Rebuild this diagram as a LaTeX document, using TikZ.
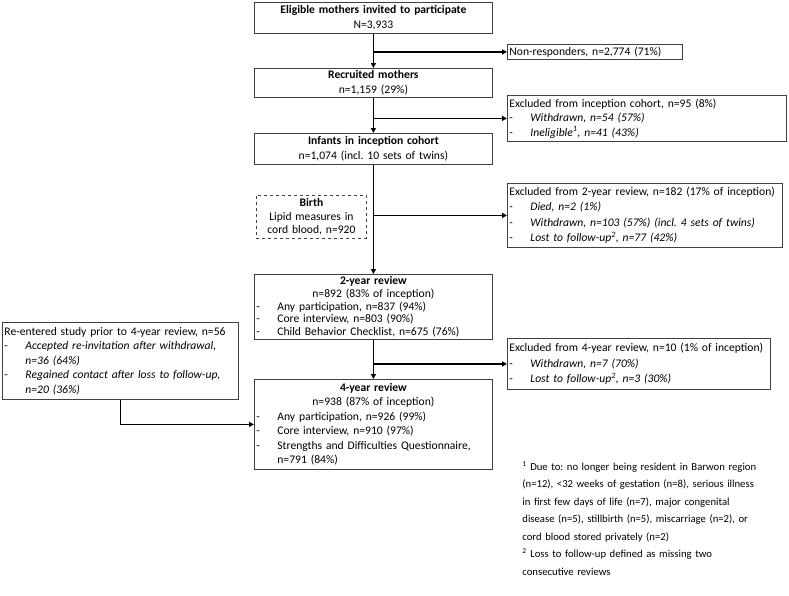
\documentclass[tikz,border=0pt]{standalone}
\usepackage{fontspec}
\setmainfont{Carlito}
\usetikzlibrary{arrows.meta}
\frenchspacing
\hyphenpenalty=10000
\newcommand{\dl}[1]{\makebox[21pt][l]{-}#1}
\newcommand{\ct}[2]{\makebox[#1pt][c]{#2}}
\tikzset{
  box/.style={draw=black!75, line width=0.8pt, anchor=north west, inner xsep=2pt, inner ysep=0pt,
    align=left, font=\fontsize{11.6}{14.5}\selectfont},
  arr/.style={line width=1.4pt, -{Triangle[length=5pt,width=5pt]}},
}
\begin{document}
\begin{tikzpicture}[x=1pt,y=-1pt]
\useasboundingbox (0,0) rectangle (789,595);
\node[box, minimum width=238pt, minimum height=31pt, text width=234pt] (b1) at (254,2)
  {\ct{234}{\textbf{Eligible mothers invited to participate}}\\\ct{234}{N=3,933}};
\node[box, minimum width=175pt, minimum height=15pt, text width=171pt] (nr) at (507,44)
  {Non-responders, n=2,774 (71\%)};
\node[box, minimum width=238pt, minimum height=29pt, text width=234pt] (b2) at (254,68)
  {\ct{234}{\textbf{Recruited mothers}}\\\ct{234}{n=1,159 (29\%)}};
\node[box, minimum width=279pt, minimum height=46pt, text width=275pt] (ex1) at (507,95)
  {Excluded from inception cohort, n=95 (8\%)\\
   \dl{\textit{Withdrawn, n=54 (57\%)}}\\
   \dl{\textit{Ineligible\textsuperscript{1}, n=41 (43\%)}}};
\node[box, minimum width=238pt, minimum height=31pt, text width=234pt] (b3) at (254,133)
  {\ct{234}{\textbf{Infants in inception cohort}}\\\ct{234}{n=1,074 (incl. 10 sets of twins)}};
\node[box, dashed, minimum width=110pt, minimum height=43pt, text width=106pt, align=center,
  font=\fontsize{11.6}{13.5}\selectfont] (birth) at (256,195)
  {\textbf{Birth}\\Lipid measures in\\cord blood, n=920};
\node[box, minimum width=275pt, minimum height=64pt, text width=271pt,
  font=\fontsize{11.6}{15.5}\selectfont] (ex2) at (507,183)
  {\mbox{Excluded from 2-year review, n=182 (17\% of inception)}\\
   \dl{\textit{Died, n=2 (1\%)}}\\
   \dl{\textit{Withdrawn, n=103 (57\%) (incl. 4 sets of twins)}}\\
   \dl{\textit{Lost to follow-up\textsuperscript{2}, n=77 (42\%)}}};
\node[box, minimum width=238pt, minimum height=65pt, text width=234pt,
  font=\fontsize{11.6}{12.8}\selectfont] (b2y) at (254,274)
  {\ct{234}{\textbf{2-year review}}\\\ct{234}{n=892 (83\% of inception)}\\
   \dl{Any participation, n=837 (94\%)}\\
   \dl{Core interview, n=803 (90\%)}\\
   \dl{Child Behavior Checklist, n=675 (76\%)}};
\node[box, minimum width=263pt, minimum height=51pt, text width=259pt,
  font=\fontsize{11.6}{15.5}\selectfont] (ex3) at (507,338)
  {\mbox{Excluded from 4-year review, n=10 (1\% of inception)}\\
   \dl{\textit{Withdrawn, n=7 (70\%)}}\\
   \dl{\textit{Lost to follow-up\textsuperscript{2}, n=3 (30\%)}}};
\node[box, minimum width=236pt, minimum height=77pt, text width=232pt] (re) at (2,322)
  {Re-entered study prior to 4-year review, n=56\\
   \dl{\textit{Accepted re-invitation after withdrawal,}}\\
   \hspace*{21pt}\textit{n=36 (64\%)}\\
   \dl{\textit{Regained contact after loss to follow-up,}}\\
   \hspace*{21pt}\textit{n=20 (36\%)}};
\node[box, minimum width=238pt, minimum height=90pt, text width=234pt] (b4) at (254,379)
  {\ct{234}{\textbf{4-year review}}\\\ct{234}{n=938 (87\% of inception)}\\
   \dl{Any participation, n=926 (99\%)}\\
   \dl{Core interview, n=910 (97\%)}\\
   \dl{Strengths and Difficulties Questionnaire,}\\
   \hspace*{21pt}n=791 (84\%)};
\node[box, draw=none, text width=275pt, font=\fontsize{10.7}{17.5}\selectfont] (foot) at (520,461)
  {\textsuperscript{1} Due to: no longer being resident in Barwon region\\
   (n=12), <32 weeks of gestation (n=8), serious illness\\
   in first few days of life (n=7), major congenital\\
   disease (n=5), stillbirth (n=5), miscarriage (n=2), or\\
   cord blood stored privately (n=2)\\
   \textsuperscript{2} Loss to follow-up defined as missing two\\
   consecutive reviews};
\draw[arr] (b1.south) -- (b2.north);
\draw[arr] (b1.south |- nr.west) -- (nr.west);
\draw[arr] (b2.south) -- (b3.north);
\draw[arr] (b2.south |- ex1.west) -- (ex1.west);
\draw[arr] (b3.south) -- (b2y.north);
\draw[arr] (b3.south |- ex2.west) -- (ex2.west);
\draw[arr] (b2y.south) -- (b4.north);
\draw[arr] (b2y.south |- ex3.west) -- (ex3.west);
\draw[arr] (re.south) |- (b4.west);
\end{tikzpicture}
\end{document}
